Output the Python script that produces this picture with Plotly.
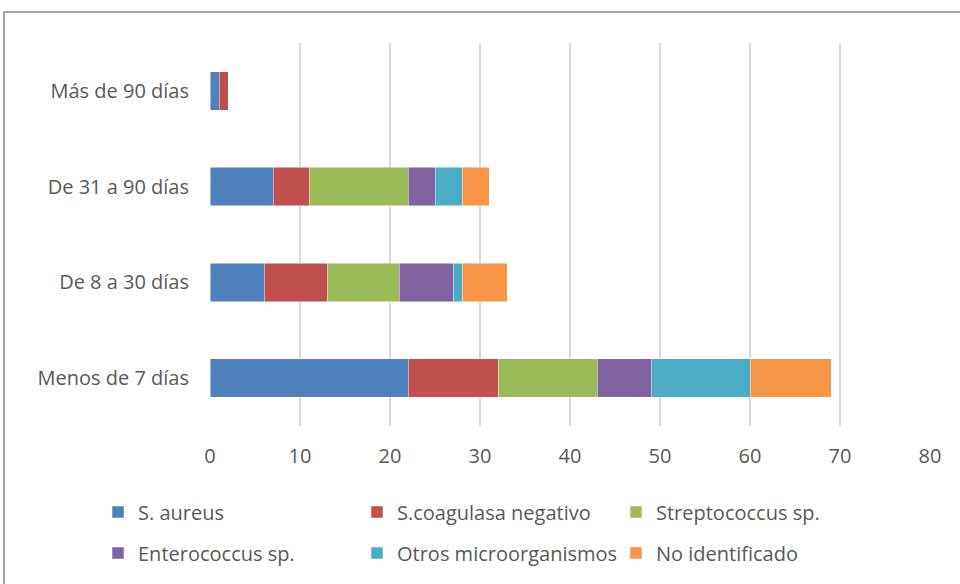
import plotly.graph_objects as go

# Tiempo de evolución (eje de categorías, de abajo arriba)
categorias = ["Menos de 7 días", "De 8 a 30 días", "De 31 a 90 días", "Más de 90 días"]

# Número de aislamientos por microorganismo
s_aureus = [22, 6, 7, 1]
s_coagulasa = [10, 7, 4, 1]
streptococcus = [11, 8, 11, 0]
enterococcus = [6, 6, 3, 0]
otros = [11, 1, 3, 0]
no_identificado = [9, 5, 3, 0]

series = [
    ("S. aureus", s_aureus, "#4F81BD", "legend"),
    ("S.coagulasa negativo", s_coagulasa, "#C0504D", "legend"),
    ("Streptococcus sp.", streptococcus, "#9BBB59", "legend"),
    ("Enterococcus sp.", enterococcus, "#8064A2", "legend2"),
    ("Otros microorganismos", otros, "#4BACC6", "legend2"),
    ("No identificado", no_identificado, "#F79646", "legend2"),
]

x_ticks = [0, 10, 20, 30, 40, 50, 60, 70, 80]

# Área de trazado en píxeles
L, R, T, B = 210, 30, 43, 158
W, H = 960, 584
PW, PH = W - L - R, H - T - B

fig = go.Figure()
for nombre, valores, color, leyenda in series:
    fig.add_trace(go.Bar(
        y=categorias, x=valores, name=nombre, orientation="h",
        marker=dict(color=color, line=dict(color="rgba(255,255,255,0.6)", width=0.8)),
        width=0.4, legend=leyenda,
    ))

font_txt = dict(family="Open Sans", size=20, color="#595959")


def fila_leyenda(py):
    return dict(orientation="h", xref="paper", yref="paper",
                x=(98 - L) / PW, y=(H - B - py) / PH, xanchor="left", yanchor="middle",
                entrywidth=214, entrywidthmode="pixels", traceorder="normal",
                font=font_txt, itemwidth=30, bgcolor="rgba(0,0,0,0)")


fig.update_layout(
    barmode="stack",
    width=W, height=H,
    paper_bgcolor="white", plot_bgcolor="white",
    margin=dict(l=L, r=R, t=T, b=B),
    font=font_txt,
    xaxis=dict(range=[0, 80], tickvals=x_ticks, showgrid=True, gridcolor="#D9D9D9",
               gridwidth=2, zeroline=False, showline=False, ticks="",
               ticklabelstandoff=16, tickfont=font_txt, fixedrange=True),
    yaxis=dict(categoryorder="array", categoryarray=categorias, showgrid=False,
               zeroline=False, showline=False, ticks="", ticklabelstandoff=20,
               tickfont=font_txt, range=[-0.5, 3.5], fixedrange=True),
    legend=fila_leyenda(512),
    legend2=fila_leyenda(553),
    shapes=[dict(type="rect", xref="paper", yref="paper",
                 x0=(4 - L) / PW, x1=(970 - L) / PW,
                 y0=(H - B - 600) / PH, y1=(H - B - 12) / PH,
                 line=dict(color="#8C8C8C", width=1.5), fillcolor="rgba(0,0,0,0)",
                 layer="below")],
)

fig.write_html("out.html")
